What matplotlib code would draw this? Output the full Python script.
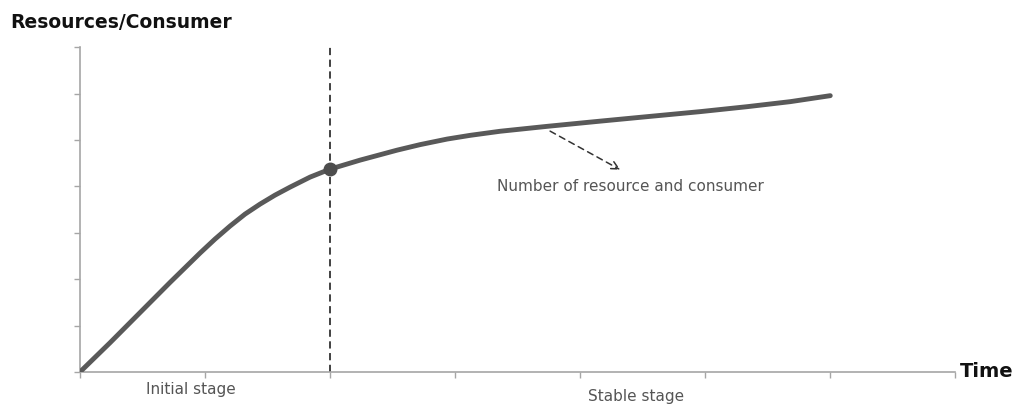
import matplotlib.pyplot as plt
from matplotlib.patches import FancyArrowPatch

# curve (x and y in tick units, 7 ticks each way)
time_pts = [0.0, 0.24, 0.48, 0.72, 0.96, 1.08, 1.20, 1.32, 1.44, 1.56, 1.68, 1.84, 2.0,
            2.24, 2.536, 2.72, 2.936, 3.12, 3.36, 3.736, 4.16, 4.536, 4.96, 5.336, 5.68, 6.0]
growth_pts = [0.0, 0.63, 1.28, 1.93, 2.563, 2.865, 3.145, 3.403, 3.618, 3.812, 3.984,
              4.200, 4.372, 4.566, 4.781, 4.900, 5.020, 5.100, 5.188, 5.294, 5.406, 5.503,
              5.611, 5.718, 5.826, 5.955]
split_time = 2.0
split_value = 4.372
x_ticks = [0, 1, 2, 3, 4, 5, 6, 7]
y_ticks = [0, 1, 2, 3, 4, 5, 6, 7]

plt.rcParams['font.family'] = ['DejaVu Sans']

fig = plt.figure(figsize=(10.19, 4.05), dpi=100)
ax = fig.add_axes([0.0785, 0.0815, 0.859, 0.802])

ax.plot(time_pts, growth_pts, color='#595959', lw=3.5, solid_capstyle='round',
        solid_joinstyle='round', zorder=3)
ax.plot([split_time], [split_value], 'o', color='#4d4d4d', ms=9, zorder=4)
ax.plot([split_time, split_time], [0, 7.05], color='#333333', lw=1.3,
        ls=(0, (4, 2.5)), zorder=2)

arrow = FancyArrowPatch((3.74, 5.22), (4.34, 4.33), arrowstyle='->', mutation_scale=14,
                        color='#333333', lw=1.1, ls=(0, (4, 3)))
ax.add_patch(arrow)

ax.text(4.4, 4.0, 'Number of resource and consumer', fontsize=11, color='#555555',
        ha='center', va='center')
ax.text(0.89, -0.37, 'Initial stage', fontsize=11, color='#555555', ha='center', va='center',
        clip_on=False)
ax.text(4.45, -0.52, 'Stable stage', fontsize=11, color='#555555', ha='center', va='center',
        clip_on=False)
ax.text(7.04, 0.0, 'Time', fontsize=14, fontweight='bold', color='#111111', ha='left',
        va='center', clip_on=False)
ax.text(-0.56, 7.54, 'Resources/Consumer', fontsize=13.5, fontweight='bold', color='#111111',
        ha='left', va='center', clip_on=False)

ax.set_xlim(0, 7)
ax.set_ylim(0, 7)
ax.set_xticks(x_ticks)
ax.set_yticks(y_ticks)
ax.set_xticklabels([])
ax.set_yticklabels([])
ax.tick_params(direction='out', length=4, width=1, color='#a6a6a6')
for side in ['top', 'right']:
    ax.spines[side].set_visible(False)
for side in ['left', 'bottom']:
    ax.spines[side].set_color('#a6a6a6')
    ax.spines[side].set_linewidth(1.2)

fig.savefig('out.png', dpi=100)
